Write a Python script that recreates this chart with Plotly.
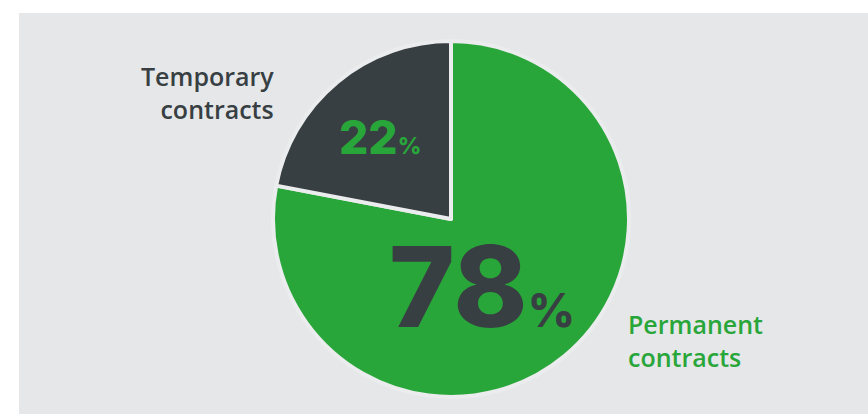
import plotly.graph_objects as go

# Share of employees by contract type (%)
categories = ["Permanent contracts", "Temporary contracts"]
shares = [78, 22]
slice_colors = ["#29a63a", "#383f43"]

W, H = 868, 414
GREEN = "#29a63a"
DARK = "#383f43"
PANEL = "#e6e7e9"


def px(x):
    return x / W


def py(y):
    return 1 - y / H


fig = go.Figure(
    go.Pie(
        labels=categories,
        values=shares,
        sort=False,
        direction="clockwise",
        rotation=0,
        marker=dict(colors=slice_colors, line=dict(color="#ebeced", width=4)),
        textinfo="none",
        hoverinfo="label+percent",
        showlegend=False,
        domain=dict(x=[px(273), px(629)], y=[py(397), py(41)]),
    )
)

# grey panel behind the chart
fig.add_shape(
    type="rect", xref="paper", yref="paper",
    x0=px(19), x1=1.0, y0=0.0, y1=py(13),
    fillcolor=PANEL, line=dict(width=0), layer="below",
)

label_font = dict(family="Open Sans", size=25, weight=600)

fig.add_annotation(
    x=px(276), y=py(92), xref="paper", yref="paper",
    xanchor="right", yanchor="middle", align="right", showarrow=False,
    text="Temporary<br>contracts",
    font=dict(label_font, color=DARK),
)
fig.add_annotation(
    x=px(626), y=py(340), xref="paper", yref="paper",
    xanchor="left", yanchor="middle", align="left", showarrow=False,
    text="Permanent<br>contracts",
    font=dict(label_font, color=GREEN),
)

# percentage figures inside the slices
big_font = dict(family="Inter", weight=800)
fig.add_annotation(
    x=px(380), y=py(167), xref="paper", yref="paper",
    xanchor="center", yanchor="bottom", showarrow=False,
    text=f"{shares[1]}<span style='font-size:23px'>%</span>",
    font=dict(big_font, size=46, color=GREEN),
)
fig.add_annotation(
    x=px(482), y=py(356), xref="paper", yref="paper",
    xanchor="center", yanchor="bottom", showarrow=False,
    text=f"{shares[0]}<span style='font-size:46px'>%</span>",
    font=dict(big_font, size=112, color=DARK),
)

fig.update_layout(
    width=W, height=H,
    margin=dict(l=0, r=0, t=0, b=0),
    paper_bgcolor="white",
)

fig.write_html("out.html")
